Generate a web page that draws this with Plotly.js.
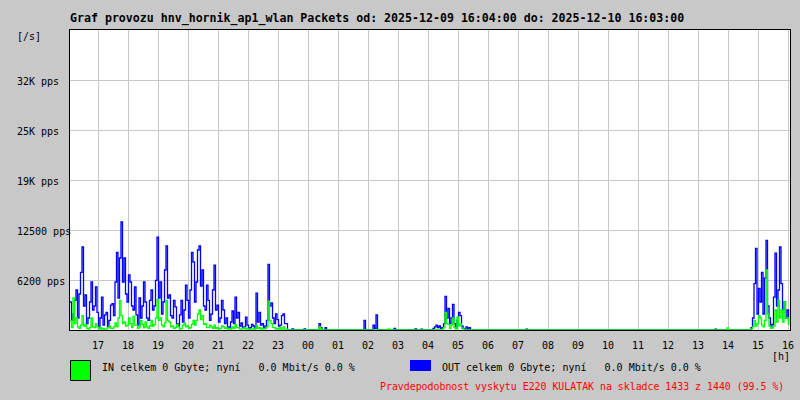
<!DOCTYPE html>
<html>
<head>
<meta charset="utf-8">
<script src="https://cdn.plot.ly/plotly-3.0.1.min.js"></script>
<style>html,body{margin:0;padding:0;background:#c8c8c8;}#chart{width:800px;height:400px;}</style>
</head>
<body>
<div id="chart"></div>
<script>
// ---- data (packets per second, one reading per 3 minutes from 2025-12-09 16:04) ----
const startTime = '2025-12-09T16:04:00Z';
const stepMinutes = 3;

const outPps = [
  3500,1200, 2000,3700, 5000,1500, 4500,7200, 10400,3000, 4400,800, 1500,3500, 6000,2500, 3000,5400, 2200,300,
  1500,4100, 600,1900, 2200,400, 1200,3100, 3300,1800, 6000,9700, 4000,9000, 13500,6000, 9000,4500, 3500,6900,
  6000,3000, 2500,5400, 1900,600, 4000,1500, 3000,6000, 3500,1500, 1200,3700, 5000,2500, 3000,6200, 11600,4000,
  6000,2000, 3500,7500, 10500,4000, 4400,1800, 1500,3700, 2900,800, 500,1900, 3700,1000, 2500,5600, 3700,1500,
  5000,9700, 8500,3500, 6000,10000, 10500,5500, 7500,3000, 2500,5600, 3700,1200, 2000,5000, 8100,2500, 3100,1000,
  1500,3700, 2500,800, 1500,400, 300,1000, 2400,800, 4100,1500, 2200,500, 900,200, 400,1600, 600,200,
  300,700, 500,200, 4600,1000, 2200,600, 800,300, 500,1200, 8200,3000, 3400,1500, 800,2000, 1300,500,
  600,1800, 2000,800, 800,0, 0,0, 150,0, 0,0, 0,0, 0,0, 150,0, 0,0,
  0,0, 0,0, 0,0, 800,300, 0,0, 300,0, 0,0, 0,0, 0,0, 0,0,
  0,0, 0,0, 0,0, 0,0, 0,0, 0,0, 0,0, 0,0, 1200,0, 0,0,
  0,0, 600,200, 1900,0, 0,0, 0,0, 0,0, 0,0, 0,0, 200,0, 0,0,
  0,0, 0,0, 0,0, 0,0, 0,0, 150,0, 0,0, 100,0, 0,0, 0,0,
  0,0, 200,400, 600,300, 500,200, 300,800, 4200,1500, 2700,800, 1500,3200, 800,200, 1200,2200,
  1800,500, 200,0, 400,0, 300,0, 0,0, 0,0, 0,0, 0,0, 0,0, 0,0,
  0,0, 0,0, 0,0, 0,0, 0,0, 0,0, 0,0, 0,0, 0,0, 0,0,
  0,0, 0,0, 100,0, 0,0, 0,0, 0,0, 0,0, 0,0, 0,0, 0,0,
  0,0, 0,0, 0,0, 0,0, 0,0, 0,0, 0,0, 0,0, 0,0, 0,0,
  0,0, 0,0, 0,0, 0,0, 0,0, 0,0, 0,0, 0,0, 0,0, 0,0,
  0,0, 0,0, 0,0, 0,0, 0,0, 0,0, 0,0, 0,0, 0,0, 0,0,
  0,0, 0,0, 0,0, 0,0, 0,0, 0,0, 0,0, 0,0, 0,0, 0,0,
  0,0, 0,0, 0,0, 0,0, 0,0, 0,0, 0,0, 0,0, 0,0, 0,0,
  0,0, 0,0, 0,0, 0,0, 0,0, 100,0, 0,0, 0,0, 0,0, 0,0,
  0,0, 0,0, 0,0, 0,0, 0,0, 0,0, 0,0, 300,1500, 5800,10200, 2000,5200,
  3500,7200, 2000,6500, 11200,3000, 1500,500, 700,4100, 9600,3000, 5000,10400, 5800,2500, 3500,1500, 2500,800
];

const inPps = [
  1200,300, 4000,800, 1500,400, 200,600, 1800,500, 700,200, 100,300, 1500,400, 300,800, 400,100,
  300,100, 200,100, 100,300, 500,200, 200,400, 900,400, 1500,3700, 1800,800, 1000,500, 600,1500,
  800,300, 1700,600, 600,200, 400,1200, 700,300, 1000,400, 200,500, 1200,500, 700,1500, 3800,1200,
  1500,600, 400,900, 3700,1200, 1000,400, 500,200, 300,700, 400,100, 200,600, 900,400, 500,200,
  300,700, 1200,600, 1200,2000, 2500,1300, 1800,700, 800,300, 300,600, 400,200, 600,200, 300,100,
  200,500, 400,200, 300,100, 200,100, 400,200, 700,300, 300,100, 100,200, 300,100, 200,100,
  100,100, 200,100, 600,200, 300,100, 200,100, 200,400, 3600,1200, 800,300, 300,100, 200,100,
  300,100, 400,100, 100,0, 0,0, 0,0, 0,0, 0,0, 0,0, 0,0, 0,0,
  0,0, 0,0, 0,0, 400,100, 0,0, 0,0, 0,0, 0,0, 0,0, 0,0,
  0,0, 0,0, 0,0, 0,0, 0,0, 0,0, 0,0, 0,0, 0,0, 0,0,
  0,0, 0,0, 0,0, 0,0, 0,0, 0,0, 150,0, 0,0, 0,0, 0,0,
  0,0, 0,0, 0,0, 0,0, 0,0, 0,0, 0,0, 0,0, 0,0, 0,0,
  0,0, 0,0, 0,0, 0,0, 100,300, 2200,800, 700,200, 600,1500, 300,100, 1600,500,
  800,200, 100,0, 0,0, 0,0, 0,0, 0,0, 0,0, 0,0, 0,0, 0,0,
  0,0, 0,0, 0,0, 0,0, 0,0, 0,0, 0,0, 0,0, 0,0, 0,0,
  0,0, 0,0, 0,0, 0,0, 0,0, 0,0, 0,0, 0,0, 0,0, 0,0,
  0,0, 0,0, 0,0, 0,0, 0,0, 0,0, 0,0, 0,0, 0,0, 0,0,
  0,0, 0,0, 0,0, 0,0, 0,0, 0,0, 0,0, 0,0, 0,0, 0,0,
  0,0, 0,0, 0,0, 0,0, 0,0, 0,0, 0,0, 0,0, 0,0, 0,0,
  0,0, 0,0, 0,0, 0,0, 0,0, 0,0, 0,0, 0,0, 0,0, 0,0,
  0,0, 0,0, 0,0, 0,0, 0,0, 0,0, 0,0, 0,0, 0,0, 0,0,
  0,0, 0,0, 0,0, 0,0, 0,0, 0,0, 0,0, 0,0, 0,0, 250,0,
  0,0, 0,0, 0,0, 0,0, 0,0, 0,0, 0,0, 100,400, 1200,500, 800,1800,
  1500,600, 400,1200, 7500,2000, 500,200, 300,500, 2500,1000, 3700,1500, 2500,1000, 3500,1500, 1500,600
];

const xTickVals = [
  '2025-12-09 17:00', '2025-12-09 18:00', '2025-12-09 19:00', '2025-12-09 20:00',
  '2025-12-09 21:00', '2025-12-09 22:00', '2025-12-09 23:00', '2025-12-10 00:00',
  '2025-12-10 01:00', '2025-12-10 02:00', '2025-12-10 03:00', '2025-12-10 04:00',
  '2025-12-10 05:00', '2025-12-10 06:00', '2025-12-10 07:00', '2025-12-10 08:00',
  '2025-12-10 09:00', '2025-12-10 10:00', '2025-12-10 11:00', '2025-12-10 12:00',
  '2025-12-10 13:00', '2025-12-10 14:00', '2025-12-10 15:00', '2025-12-10 16:00'
];
const xTickText = ['17','18','19','20','21','22','23','00','01','02','03','04',
                   '05','06','07','08','09','10','11','12','13','14','15','16'];

const yTickVals = [6250, 12500, 18750, 25000, 31250];
const yTickText = ['6200 pps', '12500 pps', '19K pps', '25K pps', '32K pps'];
const yMax = 37500;

const titleText = 'Graf provozu hnv_hornik_ap1_wlan Packets od: 2025-12-09 16:04:00 do: 2025-12-10 16:03:00';
const inLegend = 'IN celkem 0 Gbyte; nyní   0.0 Mbit/s 0.0 %';
const outLegend = 'OUT celkem 0 Gbyte; nyní   0.0 Mbit/s 0.0 %';
const noteText = 'Pravdepodobnost vyskytu E220 KULATAK na skladce 1433 z 1440 (99.5 %)';
const xRange = ['2025-12-09 16:04', '2025-12-10 16:04'];

// ---- build ----
function fmt(d) { return d.toISOString().replace('T', ' ').slice(0, 19); }
const t0 = new Date(startTime).getTime();
const times = outPps.map((_, i) => fmt(new Date(t0 + i * stepMinutes * 60000)));

const MONO = 'DejaVu Sans Mono, Liberation Mono, monospace';
const nb = s => s.replace(/ /g, '\u00a0');

// plot area: 70..790 x 30..330
const L = 70, R = 790, T = 30, B = 330;
const px = x => (x - L) / (R - L);
const py = y => (B - y) / (B - T);

const traces = [
  { x: times, y: outPps, type: 'scatter', mode: 'lines', line: { color: '#0000ff', width: 1.3, shape: 'hv' }, hoverinfo: 'skip' },
  { x: times, y: inPps, type: 'scatter', mode: 'lines', line: { color: '#00ff00', width: 1.3, shape: 'hv' }, hoverinfo: 'skip' }
];

const annotations = [];
yTickVals.forEach((v, i) => annotations.push({
  xref: 'paper', yref: 'y', x: px(15), y: v, xanchor: 'left', yanchor: 'middle', yshift: -1,
  text: nb(yTickText[i]), showarrow: false, font: { family: MONO, size: 10, color: '#000' }
}));
annotations.push({ xref: 'paper', yref: 'paper', x: px(15), y: py(37), xanchor: 'left', yanchor: 'middle',
  text: '[/s]', showarrow: false, font: { family: MONO, size: 10, color: '#000' } });
annotations.push({ xref: 'paper', yref: 'paper', x: px(770), y: py(356), xanchor: 'left', yanchor: 'middle',
  text: '[h]', showarrow: false, font: { family: MONO, size: 10, color: '#000' } });
annotations.push({ xref: 'paper', yref: 'paper', x: px(100), y: py(367), xanchor: 'left', yanchor: 'middle',
  text: nb(inLegend), showarrow: false, font: { family: MONO, size: 10, color: '#000' } });
annotations.push({ xref: 'paper', yref: 'paper', x: px(440), y: py(367), xanchor: 'left', yanchor: 'middle',
  text: nb(outLegend), showarrow: false, font: { family: MONO, size: 10, color: '#000' } });
annotations.push({ xref: 'paper', yref: 'paper', x: px(786), y: py(386), xanchor: 'right', yanchor: 'middle',
  text: nb(noteText), showarrow: false, font: { family: MONO, size: 9.9, color: '#ff0000' } });

const shapes = [
  { type: 'rect', xref: 'paper', yref: 'paper', x0: px(70.5), x1: px(90.5), y0: py(360.5), y1: py(380.5),
    fillcolor: '#00ff00', line: { color: '#000', width: 1 } },
  { type: 'rect', xref: 'paper', yref: 'paper', x0: px(410), x1: px(431), y0: py(360), y1: py(371),
    fillcolor: '#0000ff', line: { width: 0 } }
];

const layout = {
  width: 800, height: 400,
  paper_bgcolor: '#c8c8c8', plot_bgcolor: '#ffffff',
  margin: { l: L, r: 800 - R, t: T, b: 400 - B, pad: 0 },
  showlegend: false,
  title: { text: '<b>' + titleText + '</b>', xref: 'container', yref: 'container',
    x: 70 / 800, xanchor: 'left', y: 1 - 18 / 400, yanchor: 'middle',
    font: { family: MONO, size: 11.6, color: '#000' } },
  xaxis: {
    type: 'date', range: xRange, tickvals: xTickVals, ticktext: xTickText,
    showgrid: true, gridcolor: '#c8c8c8', gridwidth: 1,
    showline: true, mirror: true, linecolor: '#000', linewidth: 1,
    ticks: 'outside', ticklen: 6, tickcolor: '#c8c8c8',
    tickfont: { family: MONO, size: 10, color: '#000' }, zeroline: false
  },
  yaxis: {
    range: [0, yMax], tickvals: yTickVals, showticklabels: false,
    showgrid: true, gridcolor: '#c8c8c8', gridwidth: 1,
    showline: true, mirror: true, linecolor: '#000', linewidth: 1,
    ticks: 'outside', ticklen: 2, tickcolor: '#c8c8c8', zeroline: false
  },
  annotations: annotations,
  shapes: shapes
};

Plotly.newPlot('chart', traces, layout, { staticPlot: true, displayModeBar: false });
</script>
</body>
</html>
